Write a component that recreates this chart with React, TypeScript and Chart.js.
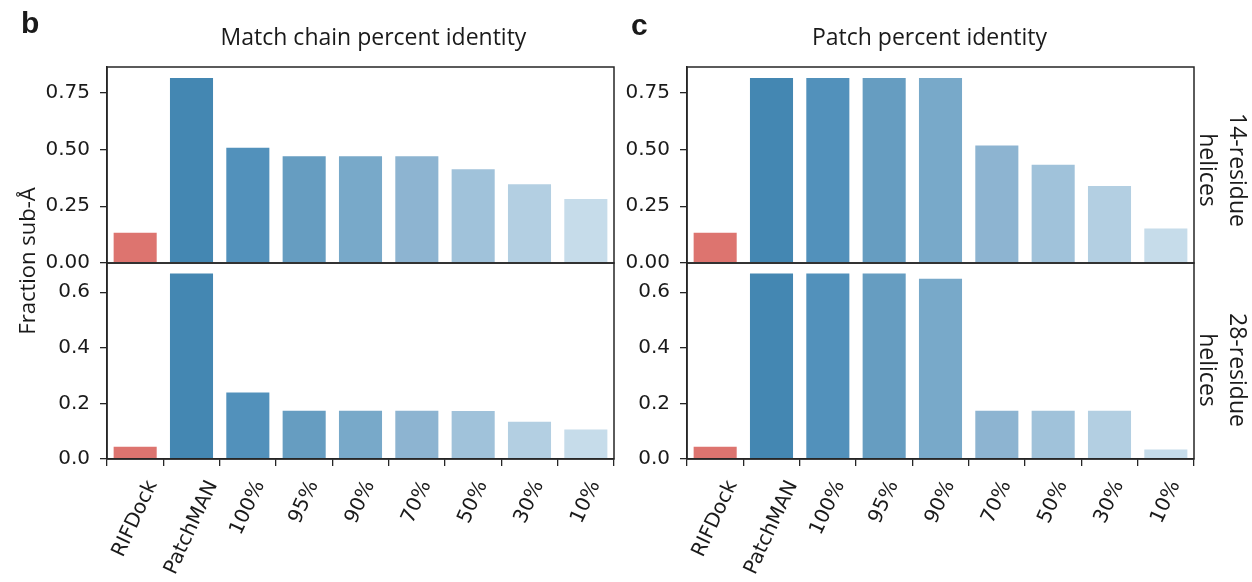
import React, { useEffect, useRef } from "react";
import { Chart, registerables } from "chart.js";

Chart.register(...registerables);

const categories = ["RIFDock", "PatchMAN", "100%", "95%", "90%", "70%", "50%", "30%", "10%"];
const barColors = ["#dd746f", "#4487b2", "#5291bb", "#669dc1", "#78a9c9", "#8db4d1", "#a0c2da", "#b3cfe2", "#c6dcea"];

const chain14 = [0.138, 0.82, 0.512, 0.475, 0.475, 0.475, 0.418, 0.352, 0.287];
const chain28 = [0.048, 0.671, 0.243, 0.177, 0.177, 0.177, 0.176, 0.138, 0.11];
const patch14 = [0.138, 0.82, 0.82, 0.82, 0.82, 0.522, 0.438, 0.344, 0.156];
const patch28 = [0.048, 0.671, 0.671, 0.671, 0.652, 0.177, 0.177, 0.177, 0.038];

const ticks14 = [0, 0.25, 0.5, 0.75];
const ticks28 = [0, 0.2, 0.4, 0.6];
const max14 = 0.864;
const max28 = 0.705;

const TICK_FONT = "'DejaVu Sans', sans-serif";
const TEXT_FONT = "'Open Sans', sans-serif";
const AXIS_COLOR = "#262626";
const LABEL_COLOR = "#1a1a1a";
const X_ROT = 65;

type PanelProps = {
  data: number[];
  yTicks: number[];
  yMax: number;
  decimals: number;
  showX: boolean;
  left: number;
  top: number;
  width: number;
  height: number;
  area: { l: number; t: number; r: number; b: number };
};

const boxPlugin = {
  id: "boxFrame",
  afterDraw(chart: any) {
    const { ctx, chartArea } = chart;
    ctx.save();
    ctx.strokeStyle = AXIS_COLOR;
    ctx.lineWidth = 1.5;
    ctx.strokeRect(chartArea.left, chartArea.top, chartArea.right - chartArea.left, chartArea.bottom - chartArea.top);
    ctx.restore();
  },
};

// Rotated category labels, centred under each tick (matplotlib style)
const xLabelPlugin = {
  id: "xLabels",
  afterDraw(chart: any) {
    const scale = chart.scales.x;
    if (!scale || !scale.options.display) return;
    const { ctx, chartArea } = chart;
    const size = 20;
    const th = (X_ROT * Math.PI) / 180;
    const h = size * 1.16;
    const y0 = chartArea.bottom + 7 + 11;
    ctx.save();
    ctx.font = `${size}px ${TICK_FONT}`;
    ctx.fillStyle = LABEL_COLOR;
    ctx.textAlign = "center";
    ctx.textBaseline = "middle";
    const labels = scale.getLabels();
    labels.forEach((lab: string, i: number) => {
      const x = scale.getPixelForTick(i);
      const L = ctx.measureText(lab).width;
      const H = L * Math.sin(th) + h * Math.cos(th);
      ctx.save();
      ctx.translate(x, y0 + H / 2);
      ctx.rotate(-th);
      ctx.fillText(lab, 0, 0);
      ctx.restore();
    });
    ctx.restore();
  },
};

function Panel(p: PanelProps) {
  const ref = useRef<HTMLCanvasElement | null>(null);
  useEffect(() => {
    if (!ref.current) return;
    const padTop = p.area.t - p.top;
    const padRight = p.left + p.width - p.area.r;
    const yWidth = p.area.l - p.left;
    const bottomSpace = p.top + p.height - p.area.b;
    const chart = new Chart(ref.current, {
      type: "bar",
      data: {
        labels: categories,
        datasets: [
          {
            data: p.data,
            backgroundColor: barColors,
            borderColor: "rgba(255,255,255,0.55)",
            borderWidth: 1,
            barPercentage: 0.8,
            categoryPercentage: 1,
          },
        ],
      },
      options: {
        animation: false,
        responsive: false,
        maintainAspectRatio: false,
        devicePixelRatio: 1,
        layout: {
          padding: { top: padTop, right: padRight, bottom: p.showX ? 0 : bottomSpace, left: 0 },
        },
        plugins: { legend: { display: false }, tooltip: { enabled: false }, title: { display: false } },
        scales: {
          x: {
            display: p.showX,
            offset: true,
            grid: { display: true, drawOnChartArea: false, drawTicks: true, tickLength: 7, color: AXIS_COLOR, lineWidth: 1.3 },
            border: { display: true, color: AXIS_COLOR, width: 1.5 },
            ticks: { display: false, autoSkip: false },
            afterFit(scale: any) {
              scale.height = p.showX ? bottomSpace : 0;
            },
          },
          y: {
            min: 0,
            max: p.yMax,
            grid: { display: true, drawOnChartArea: false, drawTicks: true, tickLength: 7, color: AXIS_COLOR, lineWidth: 1.3 },
            border: { display: true, color: AXIS_COLOR, width: 1.5 },
            ticks: {
              padding: 10,
              color: LABEL_COLOR,
              font: { family: TICK_FONT, size: 20 },
              callback: (v: any) => Number(v).toFixed(p.decimals),
            },
            afterBuildTicks(scale: any) {
              scale.ticks = p.yTicks.map((v) => ({ value: v }));
            },
            afterFit(scale: any) {
              scale.width = yWidth;
            },
          },
        },
      },
      plugins: [boxPlugin, xLabelPlugin],
    });
    return () => chart.destroy();
  }, []);
  return (
    <canvas
      ref={ref}
      width={p.width}
      height={p.height}
      style={{ position: "absolute", left: p.left, top: p.top, width: p.width, height: p.height }}
    />
  );
}

const textBase: React.CSSProperties = {
  position: "absolute",
  fontFamily: TEXT_FONT,
  color: LABEL_COLOR,
  whiteSpace: "nowrap",
};

export default function App() {
  const L = { l: 107, r: 614 };
  const R = { l: 687, r: 1194 };
  const T = { t: 67, b: 263 };
  const B = { t: 263, b: 459 };
  return (
    <div style={{ position: "fixed", left: 0, top: 0, width: 1252, height: 582, background: "#fff", overflow: "hidden" }}>
      <Panel data={chain14} yTicks={ticks14} yMax={max14} decimals={2} showX={false} left={0} top={32} width={630} height={266} area={{ ...L, ...T }} />
      <Panel data={chain28} yTicks={ticks28} yMax={max28} decimals={1} showX={true} left={0} top={228} width={630} height={354} area={{ ...L, ...B }} />
      <Panel data={patch14} yTicks={ticks14} yMax={max14} decimals={2} showX={false} left={620} top={32} width={632} height={266} area={{ ...R, ...T }} />
      <Panel data={patch28} yTicks={ticks28} yMax={max28} decimals={1} showX={true} left={620} top={228} width={632} height={354} area={{ ...R, ...B }} />

      <div style={{ ...textBase, left: 21, top: 3, fontFamily: "'Liberation Sans', Arial, sans-serif", fontWeight: 700, fontSize: 30, lineHeight: "40px" }}>b</div>
      <div style={{ ...textBase, left: 631, top: 5, fontFamily: "'Liberation Sans', Arial, sans-serif", fontWeight: 700, fontSize: 30, lineHeight: "40px" }}>c</div>

      <div style={{ ...textBase, left: 120, width: 507, top: 20, textAlign: "center", fontSize: 23, lineHeight: "32px" }}>Match chain percent identity</div>
      <div style={{ ...textBase, left: 676, width: 507, top: 20, textAlign: "center", fontSize: 23, lineHeight: "32px" }}>Patch percent identity</div>

      <div style={{ ...textBase, left: 26 - 100, top: 261 - 15, width: 200, height: 30, lineHeight: "30px", textAlign: "center", fontSize: 22, transform: "rotate(-90deg)" }}>Fraction sub-Å</div>

      <div style={{ ...textBase, left: 1224 - 100, top: 170 - 30, width: 200, height: 60, lineHeight: "30px", textAlign: "center", fontSize: 23, transform: "rotate(90deg)" }}>
        14-residue
        <br />
        helices
      </div>
      <div style={{ ...textBase, left: 1224 - 100, top: 370 - 30, width: 200, height: 60, lineHeight: "30px", textAlign: "center", fontSize: 23, transform: "rotate(90deg)" }}>
        28-residue
        <br />
        helices
      </div>
    </div>
  );
}
